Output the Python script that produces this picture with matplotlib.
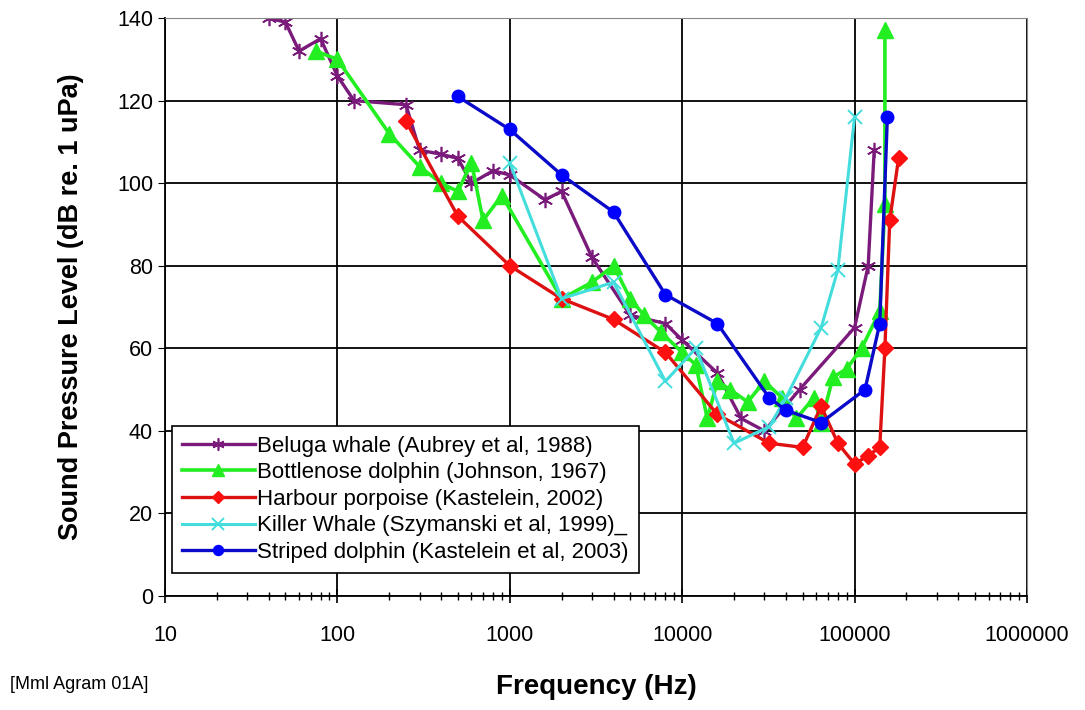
import matplotlib.pyplot as plt
from matplotlib.ticker import FixedLocator, FuncFormatter, LogLocator, NullFormatter

plt.rcParams['font.family'] = ['Liberation Sans', 'DejaVu Sans']

# Beluga whale (Aubrey et al, 1988)
beluga_f = [40, 50, 60, 80, 100, 125, 250, 300, 400, 500, 600, 800, 1000, 1600, 2000,
            3000, 5000, 8000, 10000, 16000, 22000, 30000, 48000, 100000, 120000, 130000]
beluga_db = [140, 139, 132, 135, 126, 120, 119, 108, 107, 106, 100, 103, 102, 96, 98,
             82, 68, 66, 62, 54, 43, 40, 50, 65, 80, 108]

# Bottlenose dolphin (Johnson, 1967)
bottle_f = [75, 100, 200, 300, 400, 500, 600, 700, 900, 2000, 3000, 4000, 5000, 6000, 7500,
            10000, 12000, 14000, 16000, 19000, 24000, 30000, 38000, 46000, 58000, 64000,
            75000, 90000, 110000, 140000, 150000, 150000]
bottle_db = [132, 130, 112, 104, 100, 98, 105, 91, 97, 72, 76, 80, 72, 68, 64,
             59, 56, 43, 52, 50, 47, 52, 48, 43, 48, 42,
             53, 55, 60, 69, 95, 137]

# Harbour porpoise (Kastelein, 2002)
porpoise_f = [250, 500, 1000, 2000, 4000, 8000, 16000, 32000, 50000, 64000, 80000,
              100000, 120000, 140000, 150000, 160000, 180000]
porpoise_db = [115, 92, 80, 72, 67, 59, 44, 37, 36, 46, 37, 32, 34, 36, 60, 91, 106]

# Killer whale (Szymanski et al, 1999)
killer_f = [1000, 2000, 4000, 8000, 12000, 20000, 32000, 40000, 64000, 80000, 100000]
killer_db = [105, 72, 76, 52, 60, 37, 41, 48, 65, 79, 116]

# Striped dolphin (Kastelein et al, 2003)
striped_f = [500, 1000, 2000, 4000, 8000, 16000, 32000, 40000, 64000, 115000, 140000, 155000]
striped_db = [121, 113, 102, 93, 73, 66, 48, 45, 42, 50, 66, 116]

labels = ['Beluga whale (Aubrey et al, 1988)',
          'Bottlenose dolphin (Johnson, 1967)',
          'Harbour porpoise (Kastelein, 2002)',
          'Killer Whale (Szymanski et al, 1999)_',
          'Striped dolphin (Kastelein et al, 2003)']

fig = plt.figure(figsize=(10.85, 7.1), dpi=100)
ax = fig.add_axes([0.152, 0.1606, 0.7945, 0.814])

ax.plot(beluga_f, beluga_db, color='#7a1a7a', lw=2.4, marker=(6, 2, 0), ms=11,
        mew=1.2, label=labels[0])
ax.plot(bottle_f, bottle_db, color='#22ee22', lw=2.6, marker='^', ms=11,
        label=labels[1])
ax.plot(porpoise_f, porpoise_db, color='#dd1111', lw=2.4, marker='D', ms=8,
        mfc='#ff1010', mec='#ff1010', label=labels[2])
ax.plot(killer_f, killer_db, color='#44dddd', lw=2.2, marker='x', ms=10,
        mew=1.4, label=labels[3])
ax.plot(striped_f, striped_db, color='#0a0ac8', lw=2.4, marker='o', ms=9,
        mfc='#0000ff', mec='#0000ff', label=labels[4])

ax.set_xscale('log')
ax.set_xlim(10, 1e6)
ax.set_ylim(0, 140)
ax.yaxis.set_major_locator(FixedLocator(range(0, 141, 20)))
ax.xaxis.set_major_locator(LogLocator(base=10, numticks=10))
ax.xaxis.set_minor_locator(LogLocator(base=10, subs=range(2, 10), numticks=50))
ax.xaxis.set_minor_formatter(NullFormatter())
ax.xaxis.set_major_formatter(FuncFormatter(lambda v, p: '%d' % round(v)))

ax.grid(True, which='major', color='black', lw=1.3)
ax.set_axisbelow(True)
for s in ['top', 'right']:
    ax.spines[s].set_color('#888888')
for s in ['left', 'bottom']:
    ax.spines[s].set_linewidth(1.3)

ax.tick_params(axis='x', which='major', direction='inout', length=10, width=1.2,
               labelsize=15.5, pad=16)
ax.tick_params(axis='x', which='minor', direction='inout', length=6, width=1)
ax.tick_params(axis='y', which='major', direction='out', length=5, labelsize=15.5)

ax.set_ylabel('Sound Pressure Level (dB re. 1 uPa)', fontsize=19.5, fontweight='bold',
              labelpad=24)
ax.set_xlabel('Frequency (Hz)', fontsize=20, fontweight='bold', labelpad=20)

leg = ax.legend(loc='lower left', bbox_to_anchor=(0.008, 0.04), fontsize=16,
                frameon=True, fancybox=False, edgecolor='black', framealpha=1,
                handlelength=3.3, handletextpad=0.1, borderpad=0.45,
                labelspacing=0.25, borderaxespad=0, markerscale=0.8)
leg.get_frame().set_linewidth(1.2)

fig.text(0.009, 0.03, '[Mml Agram 01A]', fontsize=13)

fig.savefig('out.png', dpi=100)
